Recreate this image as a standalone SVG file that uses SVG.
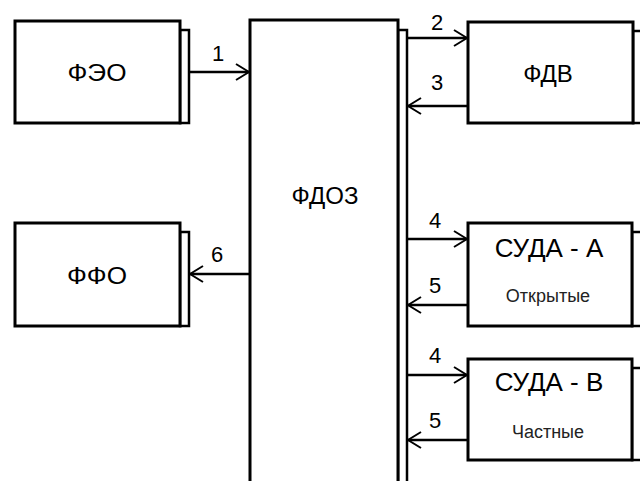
<svg xmlns="http://www.w3.org/2000/svg" width="640" height="481" viewBox="0 0 640 481">
<defs>
<marker id="ah" viewBox="0 0 16 20" refX="15" refY="10" markerWidth="16" markerHeight="20" markerUnits="userSpaceOnUse" orient="auto">
<path d="M2,2 L15,10 L2,18" fill="none" stroke="#000" stroke-width="2"/>
</marker>
</defs>
<style>
.box{fill:#fff;stroke:#000;stroke-width:3}
.sh{fill:#fff;stroke:#000;stroke-width:2.5}
.lbl{font-family:"Liberation Sans",Arial,sans-serif;font-size:24px;text-anchor:middle;fill:#000}
.big{font-size:26px}
.sub{font-family:"Liberation Sans",Arial,sans-serif;font-size:18px;text-anchor:middle;fill:#222}
.num{font-family:"Liberation Sans",Arial,sans-serif;font-size:22px;text-anchor:middle;fill:#000}
.con{stroke:#000;stroke-width:2.5;fill:none;marker-end:url(#ah)}
</style>
<rect width="640" height="481" fill="#fff"/>
<g id="feo">
<rect class="sh" x="180" y="30" width="9" height="93"/>
<rect class="box" x="15" y="21" width="165" height="102"/>
<text class="lbl" x="97" y="81" textLength="59" lengthAdjust="spacingAndGlyphs">ФЭО</text>
</g>
<g id="ffo">
<rect class="sh" x="180" y="232" width="9" height="94"/>
<rect class="box" x="15" y="223" width="165" height="103"/>
<text class="lbl" x="97" y="284" textLength="60" lengthAdjust="spacingAndGlyphs">ФФО</text>
</g>
<g id="fdoz">
<rect class="sh" x="398" y="30" width="9" height="460"/>
<rect class="box" x="250" y="20" width="148" height="470"/>
<text class="lbl" x="325" y="204">ФДОЗ</text>
</g>
<g id="fdv">
<rect class="sh" x="633" y="31" width="10" height="92"/>
<rect class="box" x="468" y="22" width="165" height="101"/>
<text class="lbl" x="548" y="82">ФДВ</text>
</g>
<g id="suda-a">
<rect class="sh" x="632" y="232" width="10" height="94"/>
<rect class="box" x="468" y="223" width="164" height="103"/>
<text class="lbl big" x="549" y="257">СУДА - А</text>
<text class="sub" x="548" y="302">Открытые</text>
</g>
<g id="suda-b">
<rect class="sh" x="632" y="368" width="10" height="92"/>
<rect class="box" x="468" y="359" width="164" height="101"/>
<text class="lbl big" x="549" y="391">СУДА - В</text>
<text class="sub" x="548" y="438">Частные</text>
</g>
<g id="connectors">
<line class="con" x1="189" y1="72" x2="249" y2="72"/>
<line class="con" x1="250" y1="274" x2="190" y2="274"/>
<line class="con" x1="407" y1="38" x2="467" y2="38"/>
<line class="con" x1="468" y1="106" x2="408" y2="106"/>
<line class="con" x1="407" y1="239" x2="467" y2="239"/>
<line class="con" x1="468" y1="305" x2="408" y2="305"/>
<line class="con" x1="407" y1="375" x2="467" y2="375"/>
<line class="con" x1="468" y1="440" x2="408" y2="440"/>
<text class="num" x="218" y="61">1</text>
<text class="num" x="217" y="262">6</text>
<text class="num" x="437" y="30">2</text>
<text class="num" x="437" y="90">3</text>
<text class="num" x="435" y="228">4</text>
<text class="num" x="435" y="293">5</text>
<text class="num" x="435" y="363">4</text>
<text class="num" x="435" y="428">5</text>
</g>
</svg>
